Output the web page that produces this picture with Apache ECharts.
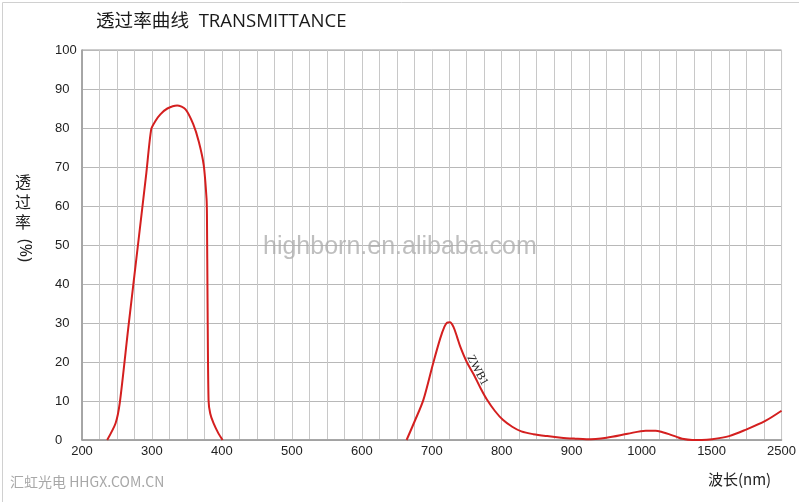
<!DOCTYPE html>
<html>
<head>
<meta charset="utf-8">
<script src="https://cdn.jsdelivr.net/npm/echarts@6/dist/echarts.min.js"></script>
<style>
html,body{margin:0;padding:0;background:#fff;}
#chart{width:799px;height:502px;}
</style>
</head>
<body>
<div id="chart"></div>
<script>
// ---- Data (wavelength nm, transmittance %) ----
const band1Wavelength = [236, 248, 254, 266, 280, 292, 299, 305, 312, 322, 336, 348, 359, 367, 374, 378, 378.6, 379.5, 380.9, 383.3, 388, 395, 401];
const band1Value      = [0, 4.3, 9.5, 28.5, 50, 68.5, 79.7, 81.8, 83.5, 85.0, 85.8, 84.8, 81.0, 76.5, 70.5, 62, 58, 35, 10.2, 6.8, 4.3, 1.7, 0];

const band2Wavelength = [664, 676, 688, 702, 712, 718, 722, 726, 731, 736, 741, 750, 760, 770, 779, 790, 802, 815, 828, 845, 865, 885, 905, 921, 950, 980, 1029, 1100, 1150, 1195, 1250, 1290, 1362, 1430, 1508, 1750, 1983, 2268, 2500];
const band2Value      = [0, 5, 10.3, 19.7, 26, 29, 30.1, 30.2, 29, 26.5, 23.8, 20, 16.8, 13.2, 10.3, 7.5, 5.1, 3.4, 2.2, 1.5, 1.0, 0.6, 0.35, 0.2, 0.6, 1.6, 2.4, 2.4, 2.0, 1.5, 0.8, 0.3, 0.0, 0.0, 0.2, 1.0, 2.6, 4.9, 7.5];

const xTickLabels = [200, 300, 400, 500, 600, 700, 800, 900, 1000, 1500, 2500];
const yTickLabels = [0, 10, 20, 30, 40, 50, 60, 70, 80, 90, 100];

const titleText = '透过率曲线  TRANSMITTANCE';
const xAxisName = '波长(nm)';
const curveLabel = 'ZWB1';
const watermark = 'highborn.en.alibaba.com';
const footer = '汇虹光电 HHGX.COM.CN';

// Broken (piecewise linear) wavelength scale of the original chart:
// 200-1000 nm: 25 nm per grid column; 1000-1500: 125 nm; 1500-2500: 250 nm.
function toPos(wl) {
  if (wl <= 1000) return (wl - 200) / 25;
  if (wl <= 1500) return 32 + (wl - 1000) / 125;
  return 36 + (wl - 1500) / 250;
}
const tickPositions = xTickLabels.map(toPos);

function pairs(xs, ys) { return xs.map((w, i) => [toPos(w), ys[i]]); }

const chart = echarts.init(document.getElementById('chart'), null, {renderer: 'canvas'});
const red = '#d41f1f';
const fontSans = 'Arial, "Liberation Sans", sans-serif';

const option = {
  backgroundColor: '#ffffff',
  animation: false,
  grid: {left: 82, right: 16, top: 50, bottom: 62, show: true, borderColor: '#9a9a9a', borderWidth: 1},
  xAxis: {
    type: 'value', min: 0, max: 40, interval: 1,
    axisLine: {show: true, lineStyle: {color: '#9a9a9a', width: 1.5}},
    axisTick: {show: false},
    splitLine: {show: true, lineStyle: {color: '#c8c8c8', width: 1}},
    axisLabel: {
      color: '#222', fontSize: 13, fontFamily: fontSans, margin: 5,
      showMinLabel: true, showMaxLabel: true, hideOverlap: false,
      formatter: function (v) {
        const idx = tickPositions.findIndex(p => Math.abs(p - v) < 1e-6);
        return idx >= 0 ? String(xTickLabels[idx]) : '';
      }
    }
  },
  yAxis: {
    type: 'value', min: 0, max: 100, interval: 10,
    axisLine: {show: true, lineStyle: {color: '#9a9a9a', width: 1.5}},
    axisTick: {show: false},
    splitLine: {show: true, lineStyle: {color: '#b8b8b8', width: 1}},
    axisLabel: {
      color: '#222', fontSize: 13, fontFamily: fontSans, margin: 27, align: 'left',
      formatter: function (v) { return yTickLabels.includes(v) ? String(v) : ''; }
    }
  },
  series: [
    {type: 'line', data: pairs(band1Wavelength, band1Value), smooth: 0.25, symbol: 'none',
     lineStyle: {color: red, width: 2}},
    {type: 'line', data: pairs(band2Wavelength, band2Value), smooth: 0.3, symbol: 'none',
     lineStyle: {color: red, width: 2}}
  ],
  graphic: [
    {type: 'rect', left: 0, top: 0, shape: {width: 798, height: 501}, z: -10,
     style: {fill: 'none', stroke: '#d0d0d0', lineWidth: 1}},
    {type: 'text', left: 96, top: 12, z: 10,
     style: {text: titleText, fill: '#1a1a1a', font: '18.6px "Open Sans", "Noto Sans CJK SC", sans-serif'}},
    {type: 'text', left: 15, top: 172, z: 10,
     style: {text: '透\n过\n率', fill: '#222', font: '16px "Noto Sans CJK SC", sans-serif', lineHeight: 20}},
    {type: 'text', x: 33, y: 239, rotation: -Math.PI / 2, z: 10,
     style: {text: '(%)', fill: '#222', font: '16px "Noto Sans", sans-serif'}},
    {type: 'text', left: 708, top: 472, z: 10,
     style: {text: xAxisName, fill: '#222', font: '15px "Noto Sans CJK SC", sans-serif'}},
    {type: 'text', x: 475, y: 353, rotation: -Math.PI * 62 / 180, z: 10,
     style: {text: curveLabel, fill: '#222', font: '12px "Liberation Serif", serif'}},
    {type: 'text', left: 263, top: 235, z: 5,
     style: {text: watermark, fill: 'rgba(170,170,170,0.75)', font: '25px "Liberation Sans", Arial, sans-serif'}},
    {type: 'text', left: 10, top: 475, z: 10,
     style: {text: footer, fill: '#a8a8a8', font: '14px "Noto Sans CJK SC", "Liberation Sans", sans-serif'}}
  ]
};
chart.setOption(option);
</script>
</body>
</html>
